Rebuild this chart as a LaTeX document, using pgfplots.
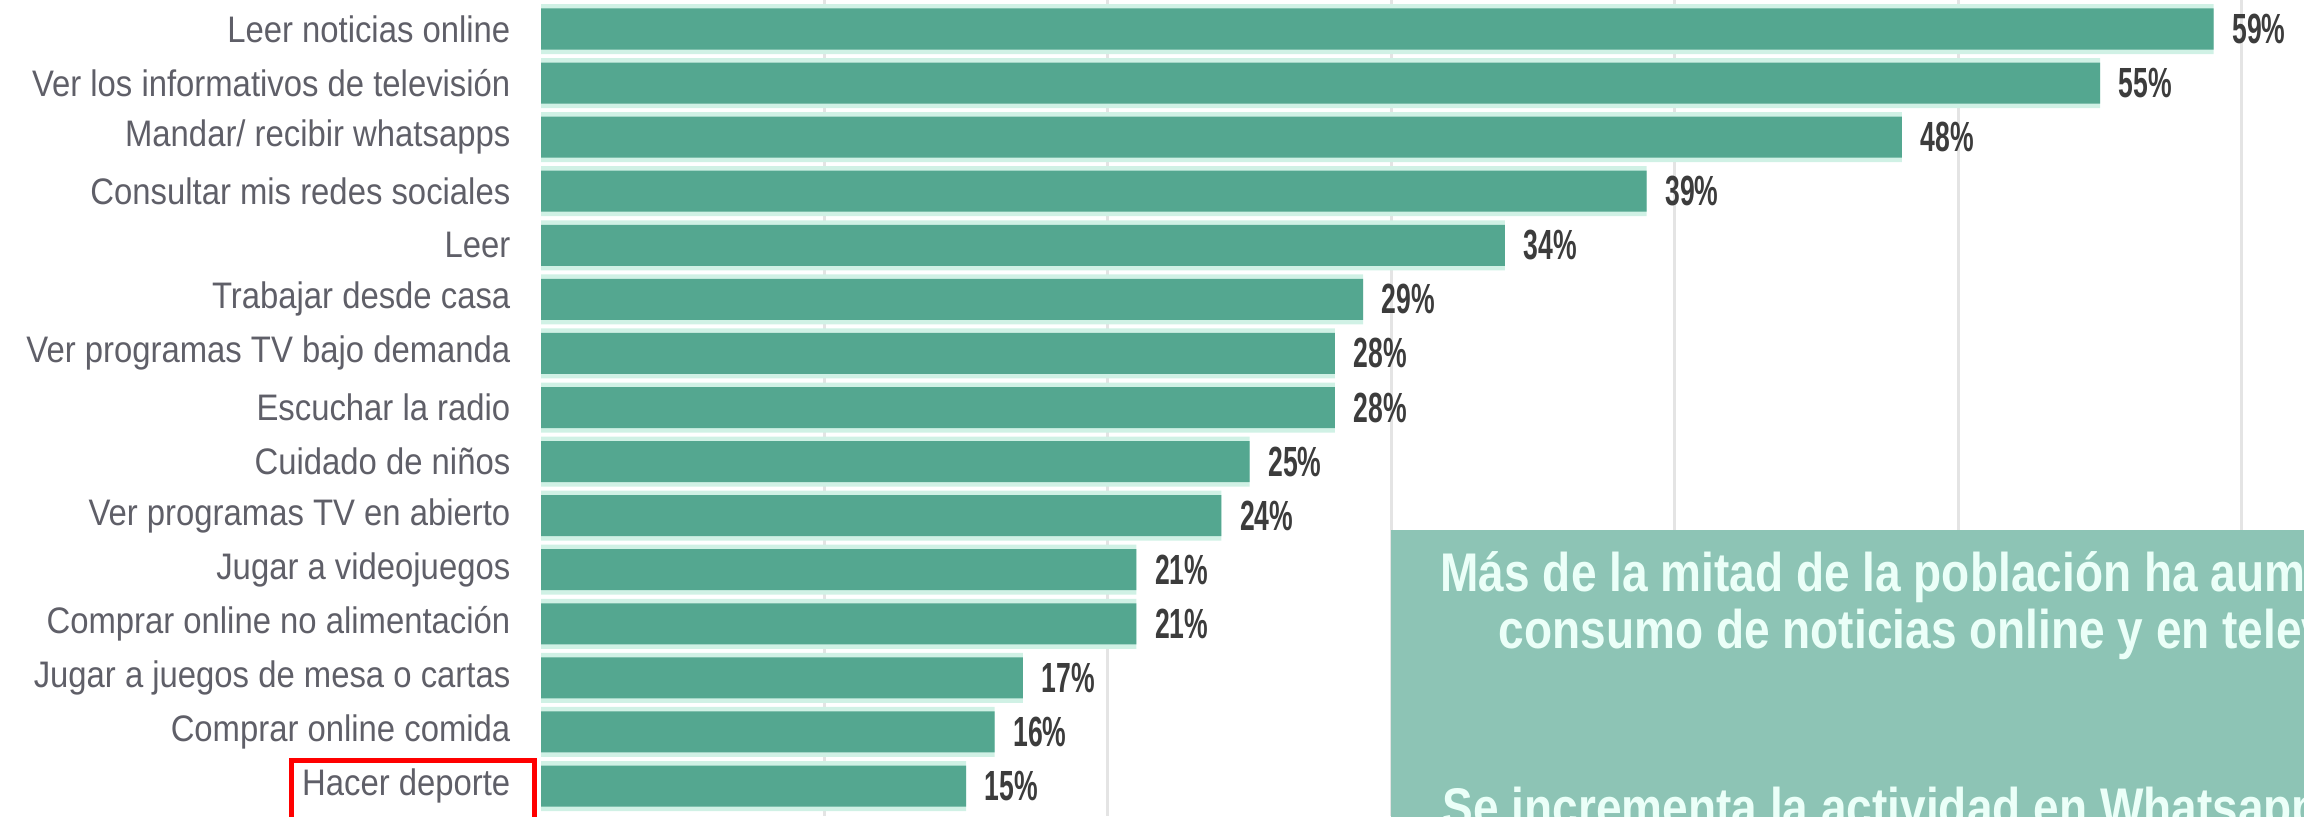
\documentclass[border=0pt]{standalone}
\usepackage{pgfplots}
\pgfplotsset{compat=1.18}
\usepackage{fontspec}
\setmainfont{Liberation Sans}
\newfontfamily\labfont{Liberation Sans}[FakeStretch=0.89]
\newfontfamily\valfont{Liberation Sans}[FakeStretch=0.63]
\newfontfamily\boxfont{Liberation Sans}[FakeStretch=0.845]
\definecolor{barc}{RGB}{84,167,144}
\definecolor{halo}{RGB}{208,241,229}
\definecolor{boxc}{RGB}{141,196,181}
\definecolor{boxtxt}{RGB}{235,255,248}
\definecolor{labc}{RGB}{95,95,104}
\definecolor{valc}{RGB}{60,60,60}
\definecolor{gridc}{RGB}{228,228,228}

\begin{document}
\begin{tikzpicture}
\useasboundingbox (0,0) rectangle (230.4mm,81.6mm);
\clip (0,0) rectangle (230.4mm,81.6mm);
\begin{axis}[
  at={(54.1mm,0mm)}, anchor=south west,
  scale only axis, width=176.3mm, height=81.6mm,
  xmin=0, xmax=62.19, ymin=-0.536, ymax=14.555, y dir=reverse,
  axis line style={draw=none}, major tick length=0pt,
  xtick={10,20,...,60}, xticklabels={}, xmajorgrids,
  grid style={gridc, line width=0.3mm},
  ytick={0,...,14},
  yticklabels={Leer noticias online, Ver los informativos de televisión,
    Mandar/ recibir whatsapps, Consultar mis redes sociales, Leer,
    Trabajar desde casa, Ver programas TV bajo demanda\hspace{0.8mm},
    Escuchar la radio, Cuidado de niños, Ver programas TV en abierto,
    Jugar a videojuegos, Comprar online no alimentación,
    Jugar a juegos de mesa o cartas, Comprar online comida, Hacer deporte},
  yticklabel style={font=\labfont\fontsize{10.5}{12}\selectfont, text=labc,
    inner sep=0pt, xshift=-3mm},
  /pgf/number format/assume math mode=true,
]
% light band round each bar
\addplot[xbar, bar shift=0pt, bar width=5.0mm, fill=halo, draw=none] coordinates {
  (59,0) (55,1) (48,2) (39,3) (34,4) (29,5) (28,6) (28,7)
  (25,8) (24,9) (21,10) (21,11) (17,12) (16,13) (15,14)
};
\addplot[xbar, bar shift=0pt, bar width=4.1mm, fill=barc, draw=none,
  point meta=x,
  nodes near coords={\pgfmathprintnumber{\pgfplotspointmeta}\%},
  nodes near coords style={font=\valfont\bfseries\fontsize{12}{14}\selectfont,
    text=valc, anchor=west, inner sep=0pt, xshift=1.8mm}] coordinates {
  (59,0) (55,1) (48,2) (39,3) (34,4) (29,5) (28,6) (28,7)
  (25,8) (24,9) (21,10) (21,11) (17,12) (16,13) (15,14)
};
% text box on the right
\fill[boxc] (axis cs:30,9.27) rectangle (axis cs:70,16);
\node[anchor=base west, inner sep=0pt, text=boxtxt,
  font=\boxfont\bfseries\fontsize{15.5}{18}\selectfont]
  at (axis cs:31.71,10.41) {Más de la mitad de la población ha aumentado su};
\node[anchor=base west, inner sep=0pt, text=boxtxt,
  font=\boxfont\bfseries\fontsize{15.5}{18}\selectfont]
  at (axis cs:33.76,11.45) {consumo de noticias online y en televisión};
\node[anchor=base west, inner sep=0pt, text=boxtxt,
  font=\boxfont\bfseries\fontsize{15.5}{18}\selectfont]
  at (axis cs:31.78,14.74) {Se incrementa la actividad en Whatsapp};
\end{axis}
\draw[red, line width=0.5mm] (29.1mm,-2mm) rectangle (53.4mm,5.6mm);
\end{tikzpicture}
\end{document}
